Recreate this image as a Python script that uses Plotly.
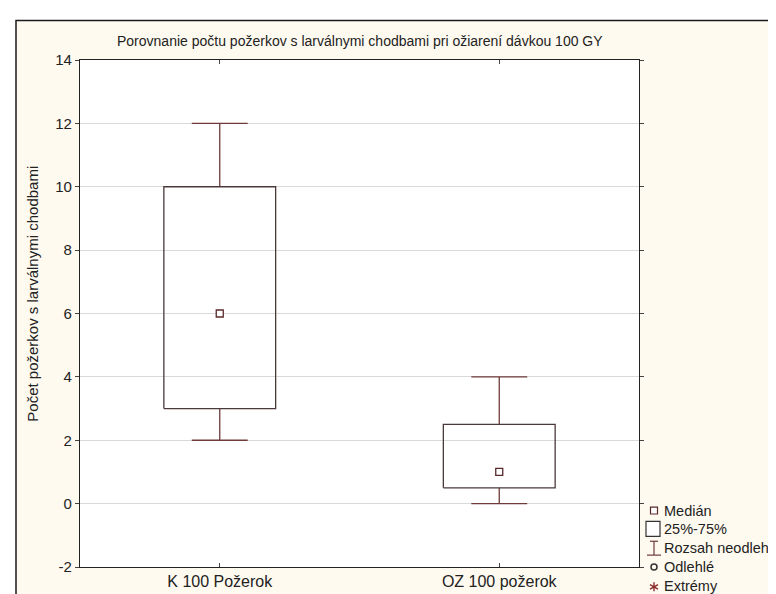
import plotly.graph_objects as go

categories = ["K 100 Požerok", "OZ 100 požerok"]
medians = [6, 1]
q1 = [3, 0.5]
q3 = [10, 2.5]
whisk_min = [2, 0]
whisk_max = [12, 4]
y_ticks = [-2, 0, 2, 4, 6, 8, 10, 12, 14]
y_tick_labels = ["-2", "0", "2", "4", "6", "8", "10", "12", "14"]

title_text = "Porovnanie počtu požerkov s larválnymi chodbami pri ožiarení dávkou 100 GY"
ytitle = "Počet požerkov s larválnymi chodbami"
legend_labels = ["Medián", "25%-75%", "Rozsah neodleh", "Odlehlé", "Extrémy"]

W, H = 776, 594
L, R, T, B = 72, 145, 52, 30
PW, PH = W - L - R, H - T - B

def px(x):
    return (x - L) / PW

def py(y):
    return (H - B - y) / PH

BOX_C = "#4A3A3A"
WH_C = "#6E3A3A"
MED_C = "#5A2A2A"
AST_C = "#8B2A2A"
CREAM = "#FFFAF0"
FONT = "Liberation Sans"
TXT = "#222222"

fig = go.Figure()
bw, cw = 0.2, 0.1
for i, c in enumerate(categories):
    fig.add_trace(go.Scatter(x=[i, i, None, i, i], y=[q3[i], whisk_max[i], None, q1[i], whisk_min[i]],
                             mode="lines", line=dict(color=WH_C, width=1.3), showlegend=False, hoverinfo="skip"))
    fig.add_trace(go.Scatter(x=[i - cw, i + cw, None, i - cw, i + cw],
                             y=[whisk_max[i], whisk_max[i], None, whisk_min[i], whisk_min[i]],
                             mode="lines", line=dict(color=WH_C, width=1.3), showlegend=False, hoverinfo="skip"))
    fig.add_trace(go.Scatter(x=[i - bw, i + bw, i + bw, i - bw, i - bw],
                             y=[q1[i], q1[i], q3[i], q3[i], q1[i]],
                             mode="lines", line=dict(color=BOX_C, width=1.3), showlegend=False, hoverinfo="skip"))
fig.add_trace(go.Scatter(x=list(range(len(categories))), y=medians, mode="markers",
                         marker=dict(symbol="square", size=7, color="white", line=dict(color=MED_C, width=1.3)),
                         showlegend=False, name="Medián"))

ax, ay = 646, 584
shapes = [
    dict(type="rect", xref="paper", yref="paper", x0=px(8), x1=px(790), y0=py(12), y1=py(610),
         fillcolor=CREAM, line=dict(color="#1a1a1a", width=1.5), layer="below"),
    dict(type="rect", xref="paper", yref="paper", x0=0, x1=1, y0=0, y1=1,
         fillcolor="white", line=dict(width=0), layer="below"),
    dict(type="rect", xref="paper", yref="paper", x0=px(642.5), x1=px(649.5), y0=py(510.5), y1=py(503.5),
         fillcolor="white", line=dict(color=MED_C, width=1.2)),
    dict(type="rect", xref="paper", yref="paper", x0=px(638), x1=px(652), y0=py(533), y1=py(518),
         fillcolor="white", line=dict(color="#333333", width=1.2)),
    dict(type="line", xref="paper", yref="paper", x0=px(642), x1=px(650), y0=py(538), y1=py(538),
         line=dict(color=WH_C, width=1.2)),
    dict(type="line", xref="paper", yref="paper", x0=px(646), x1=px(646), y0=py(538), y1=py(552),
         line=dict(color=WH_C, width=1.2)),
    dict(type="line", xref="paper", yref="paper", x0=px(639), x1=px(653), y0=py(552), y1=py(552),
         line=dict(color=WH_C, width=1.2)),
    dict(type="circle", xref="paper", yref="paper", x0=px(643), x1=px(649), y0=py(567), y1=py(561),
         line=dict(color="#333333", width=1.5)),
    dict(type="line", xref="paper", yref="paper", x0=px(ax), x1=px(ax), y0=py(ay - 4.5), y1=py(ay + 4.5),
         line=dict(color=AST_C, width=1.4)),
    dict(type="line", xref="paper", yref="paper", x0=px(ax - 4), x1=px(ax + 4), y0=py(ay - 2.3), y1=py(ay + 2.3),
         line=dict(color=AST_C, width=1.4)),
    dict(type="line", xref="paper", yref="paper", x0=px(ax - 4), x1=px(ax + 4), y0=py(ay + 2.3), y1=py(ay - 2.3),
         line=dict(color=AST_C, width=1.4)),
]

annotations = [
    dict(text=title_text, xref="paper", yref="paper", x=0.5, y=py(33), xanchor="center", yanchor="middle",
         showarrow=False, font=dict(family=FONT, size=14, color=TXT)),
    dict(text=ytitle, xref="paper", yref="paper", x=px(25), y=py(288), xanchor="center", yanchor="middle",
         textangle=-90, showarrow=False, font=dict(family=FONT, size=15, color=TXT)),
]
ys = [507, 526, 545, 564, 583]
for lab, yy in zip(legend_labels, ys):
    annotations.append(dict(text=lab, xref="paper", yref="paper", x=px(655), y=py(yy), xanchor="left",
                            yanchor="middle", showarrow=False, borderpad=0,
                            font=dict(family=FONT, size=14.5, color=TXT)))

fig.update_layout(
    width=W, height=H,
    margin=dict(l=L, r=R, t=T, b=B, pad=0),
    paper_bgcolor="white", plot_bgcolor="rgba(0,0,0,0)",
    showlegend=False,
    shapes=shapes, annotations=annotations,
    font=dict(family=FONT, size=15, color=TXT),
    xaxis=dict(range=[-0.5, 1.5], tickvals=list(range(len(categories))), ticktext=categories,
               showgrid=False, zeroline=False, showline=True, linecolor="#222", linewidth=1.2,
               mirror="ticks", ticks="inside", ticklen=4, tickcolor="#444",
               tickfont=dict(family=FONT, size=16, color=TXT)),
    yaxis=dict(range=[-2, 14], tickvals=y_ticks, ticktext=y_tick_labels, showgrid=True,
               gridcolor="#D9D9D9", gridwidth=1,
               zeroline=False, showline=True, linecolor="#222", linewidth=1.2,
               mirror="ticks", ticks="outside", ticklen=4, tickcolor="#444",
               tickfont=dict(family=FONT, size=15, color=TXT)),
)

fig.write_html("out.html")
